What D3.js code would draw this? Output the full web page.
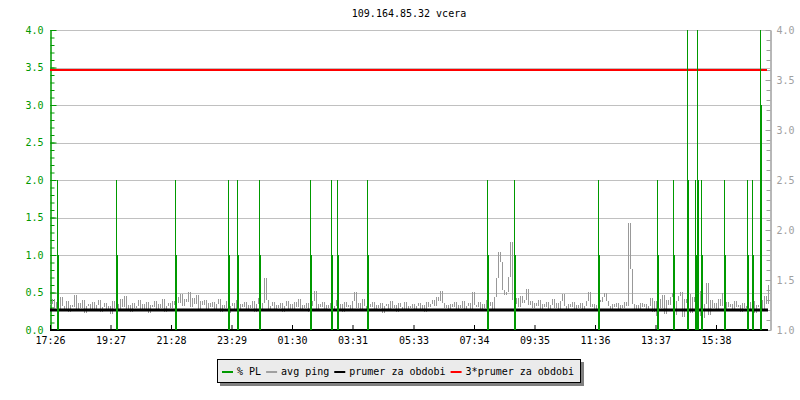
<!DOCTYPE html>
<html>
<head>
<meta charset="utf-8">
<script src="https://cdn.jsdelivr.net/npm/d3@7"></script>
<style>
  body { margin: 0; background: #fff; }
  text { font-family: "DejaVu Sans Mono", monospace; font-size: 10px; }
</style>
</head>
<body>
<div id="chart"></div>
<script>

var title = "109.164.85.32 vcera";

// time axis: minutes from the start (17:26), one day
var startLabel = "17:26";
var timeLabels = ["17:26", "19:27", "21:28", "23:29", "01:30", "03:31",
                  "05:33", "07:34", "09:35", "11:36", "13:37", "15:38"];

// avg ping, one sample every 4 minutes (right axis)
var pingValues = [
  1.26,1.31,1.22,1.28,1.19,1.33,1.24,1.21,1.29,1.18,1.25,1.23,1.35,1.20,1.27,1.22,1.30,1.17,1.24,1.26,
  1.21,1.28,1.19,1.25,1.30,1.18,1.23,1.27,1.20,1.24,1.16,1.29,1.22,1.26,1.19,1.31,1.23,1.34,1.21,1.25,
  1.18,1.27,1.22,1.24,1.30,1.19,1.26,1.21,1.28,1.17,1.25,1.23,1.29,1.20,1.26,1.22,1.31,1.18,1.24,1.27,
  1.22,1.29,1.25,1.33,1.27,1.36,1.24,1.31,1.28,1.38,1.23,1.32,1.26,1.35,1.21,1.29,1.25,1.30,1.19,1.27,
  1.23,1.28,1.20,1.26,1.31,1.18,1.25,1.22,1.29,1.17,1.24,1.27,1.21,1.30,1.19,1.26,1.23,1.28,1.20,1.25,
  1.22,1.29,1.18,1.26,1.32,1.21,1.27,1.52,1.30,1.19,1.24,1.28,1.20,1.25,1.22,1.27,1.18,1.24,1.29,1.21,
  1.26,1.20,1.28,1.23,1.31,1.19,1.25,1.22,1.27,1.18,1.24,1.29,1.39,1.21,1.26,1.23,1.28,1.20,1.25,1.22,
  1.27,1.19,1.24,1.30,1.21,1.26,1.18,1.28,1.23,1.25,1.20,1.29,1.38,1.22,1.27,1.19,1.31,1.24,1.21,1.26,
  1.23,1.28,1.19,1.25,1.22,1.27,1.17,1.24,1.26,1.20,1.29,1.22,1.25,1.18,1.27,1.23,1.21,1.28,1.19,1.24,
  1.22,1.26,1.19,1.24,1.27,1.21,1.25,1.18,1.28,1.23,1.26,1.30,1.24,1.33,1.29,1.39,1.27,1.22,1.25,1.20,
  1.26,1.23,1.28,1.19,1.25,1.22,1.29,1.21,1.24,1.27,1.20,1.38,1.25,1.23,1.28,1.19,1.26,1.22,1.30,1.24,
  1.28,1.21,1.33,1.52,1.78,1.68,1.40,1.35,1.38,1.53,1.88,1.30,1.26,1.32,1.23,1.34,1.27,1.30,1.41,1.25,
  1.29,1.22,1.27,1.24,1.30,1.20,1.26,1.23,1.28,1.19,1.25,1.31,1.22,1.27,1.21,1.29,1.36,1.24,1.20,1.26,
  1.23,1.28,1.19,1.25,1.22,1.27,1.20,1.24,1.29,1.38,1.23,1.26,1.21,1.25,1.30,1.28,1.33,1.37,1.29,1.24,
  1.21,1.26,1.23,1.27,1.20,1.25,1.22,1.28,1.24,2.07,1.61,1.26,1.21,1.25,1.19,1.27,1.23,1.26,1.20,1.24,
  1.32,1.18,1.29,1.14,1.31,1.22,1.35,1.16,1.30,1.25,1.33,1.37,1.15,1.29,1.34,1.38,1.13,1.31,1.27,1.36,
  1.17,1.33,1.28,1.35,1.39,1.14,1.12,1.26,1.47,1.15,1.30,1.22,1.27,1.19,1.31,1.24,1.37,1.21,1.28,1.23,
  1.26,1.20,1.29,1.23,1.25,1.18,1.27,1.22,1.24,1.28,1.21,1.29,1.17,1.25,1.23,1.30,1.19,1.34,1.26,1.45
];
var pingStep = 4;
var pingMean = 1.2;

// packet loss events (left axis): minute, loss value, short peak
var plMinutes = [14, 132, 250, 356, 374, 418, 520, 562, 574, 634, 874, 928,
                 1096, 1214, 1246, 1274, 1290, 1294, 1302, 1348, 1394, 1404, 1420];
var plValues  = [1, 1, 1, 1, 1, 1, 1, 1, 1, 1, 1, 1,
                 1, 1, 1, 2, 1, 2, 1, 1, 1, 1, 3];
var plPeaks   = [2, 2, 2, 2, 2, 2, 2, 2, 2, 2, 2, 2,
                 2, 2, 2, 4, 2, 4, 2, 2, 2, 2, 4];

var legendNames  = ["% PL", "avg ping", "prumer za obdobi", "3*prumer za obdobi"];
var legendColors = ["#009900", "#a0a0a0", "#000000", "#ff0000"];

var w = 800, h = 400,
    padL = 50, padR = 770, padT = 30, padB = 330;

function toMinutes(s) {
  var p = s.split(":");
  var m = +p[0] * 60 + +p[1];
  var s0 = startLabel.split(":");
  var m0 = +s0[0] * 60 + +s0[1];
  return (m - m0 + 1440) % 1440;
}

var x = d3.scaleLinear().domain([0, 1440]).range([padL, padR]);
var yPL = d3.scaleLinear().domain([0, 4]).range([padB, padT]);
var yPing = d3.scaleLinear().domain([1, 4]).range([padB, padT]);

var svg = d3.select("#chart").append("svg")
    .attr("width", w)
    .attr("height", h);

svg.append("rect").attr("width", w).attr("height", h).attr("fill", "#fff");

svg.append("text")
    .attr("x", 409)
    .attr("y", 17)
    .attr("text-anchor", "middle")
    .attr("fill", "#000")
    .text(title);

// horizontal grid
svg.append("g").selectAll("line")
    .data(d3.range(0.5, 4.01, 0.5))
    .enter().append("line")
    .attr("x1", padL).attr("x2", padR)
    .attr("y1", function(d) { return Math.round(yPL(d)) + 0.5; })
    .attr("y2", function(d) { return Math.round(yPL(d)) + 0.5; })
    .attr("stroke", "#c0c0c0");

function styleAxis(g, color) {
  g.selectAll("path, line").attr("stroke", color);
  g.selectAll("text").attr("fill", color).style("font-size", "10px")
    .style("font-family", "'DejaVu Sans Mono', monospace");
}

// left axis (PL)
var leftMinor = svg.append("g")
    .attr("transform", "translate(" + (padL + 0.5) + ",0)")
    .call(d3.axisLeft(yPL).tickValues(d3.range(0, 4.01, 0.1))
      .tickSize(-4).tickSizeOuter(0).tickFormat(""));
var leftAxis = svg.append("g")
    .attr("transform", "translate(" + (padL + 0.5) + ",0)")
    .call(d3.axisLeft(yPL).tickValues(d3.range(0, 4.01, 0.5))
      .tickSize(-6).tickSizeOuter(0).tickPadding(7).tickFormat(d3.format(".1f")));
styleAxis(leftMinor, "#009900");
styleAxis(leftAxis, "#009900");

// right axis (ping)
var rightMinor = svg.append("g")
    .attr("transform", "translate(" + (padR + 0.5) + ",0)")
    .call(d3.axisRight(yPing).tickValues(d3.range(1, 4.01, 0.1))
      .tickSize(-4).tickSizeOuter(0).tickFormat(""));
var rightAxis = svg.append("g")
    .attr("transform", "translate(" + (padR + 0.5) + ",0)")
    .call(d3.axisRight(yPing).tickValues(d3.range(1, 4.01, 0.5))
      .tickSize(-5).tickSizeOuter(0).tickPadding(6).tickFormat(d3.format(".1f")));
styleAxis(rightMinor, "#a0a0a0");
styleAxis(rightAxis, "#a0a0a0");

// 3*mean line
svg.append("line")
    .attr("x1", padL).attr("x2", padR - 3)
    .attr("y1", yPing(3 * pingMean)).attr("y2", yPing(3 * pingMean))
    .attr("stroke", "#ff0000").attr("stroke-width", 2);

// avg ping: a vertical stroke per sample, from the previous value to this one
var pingPath = pingValues.map(function(v, i) {
  var prev = i > 0 ? pingValues[i - 1] : v;
  var px = Math.round(x(i * pingStep)) + 0.5;
  var y0 = Math.round(yPing(prev)), y1 = Math.round(yPing(v));
  if (y0 == y1) y1 += 1;
  return "M" + px + "," + y0 + "V" + y1;
}).join("");

svg.append("path")
    .attr("fill", "none")
    .attr("stroke", "#999999")
    .attr("stroke-width", 1)
    .attr("shape-rendering", "crispEdges")
    .attr("d", pingPath);

// mean
svg.append("line")
    .attr("x1", padL).attr("x2", padR - 2)
    .attr("y1", yPing(pingMean)).attr("y2", yPing(pingMean))
    .attr("stroke", "#000").attr("stroke-width", 3);

// bottom axis
var bottomAxis = svg.append("g")
    .attr("transform", "translate(0," + padB + ")")
    .call(d3.axisBottom(x).tickValues(timeLabels.map(toMinutes))
      .tickSize(-5).tickSizeOuter(0).tickPadding(7)
      .tickFormat(function(d, i) { return timeLabels[i]; }));
bottomAxis.select(".domain").remove();
styleAxis(bottomAxis, "#000");
svg.append("line")
    .attr("x1", padL).attr("x2", padR - 2)
    .attr("y1", padB).attr("y2", padB)
    .attr("stroke", "#000").attr("stroke-width", 2);

// packet loss
var pl = svg.append("g").selectAll("g")
    .data(plMinutes.map(function(m, i) { return {m: m, v: plValues[i], p: plPeaks[i]}; }))
    .enter().append("g");
pl.append("line")
    .attr("x1", function(d) { return Math.round(x(d.m)) + 0.5; })
    .attr("x2", function(d) { return Math.round(x(d.m)) + 0.5; })
    .attr("y1", yPL(0))
    .attr("y2", function(d) { return yPL(d.p); })
    .attr("stroke", "#009900");
pl.append("rect")
    .attr("x", function(d) { return Math.round(x(d.m)); })
    .attr("width", 2)
    .attr("y", function(d) { return yPL(d.v); })
    .attr("height", function(d) { return yPL(0) - yPL(d.v); })
    .attr("fill", "#009900");

// legend
var lg = svg.append("g");
lg.append("rect").attr("x", 220).attr("y", 362).attr("width", 364).attr("height", 24)
    .attr("fill", "#808080");
lg.append("rect").attr("x", 217.5).attr("y", 359.5).attr("width", 363).attr("height", 23)
    .attr("fill", "#ebebeb").attr("stroke", "#000");

var cx = 222;
legendNames.forEach(function(name, i) {
  lg.append("line")
      .attr("x1", cx).attr("x2", cx + 11)
      .attr("y1", 372).attr("y2", 372)
      .attr("stroke", legendColors[i]).attr("stroke-width", 2);
  var t = lg.append("text")
      .attr("x", cx + 15).attr("y", 375)
      .attr("fill", "#000")
      .text(name);
  cx += 15 + t.node().getComputedTextLength() + 5;
});

</script>
</body>
</html>
